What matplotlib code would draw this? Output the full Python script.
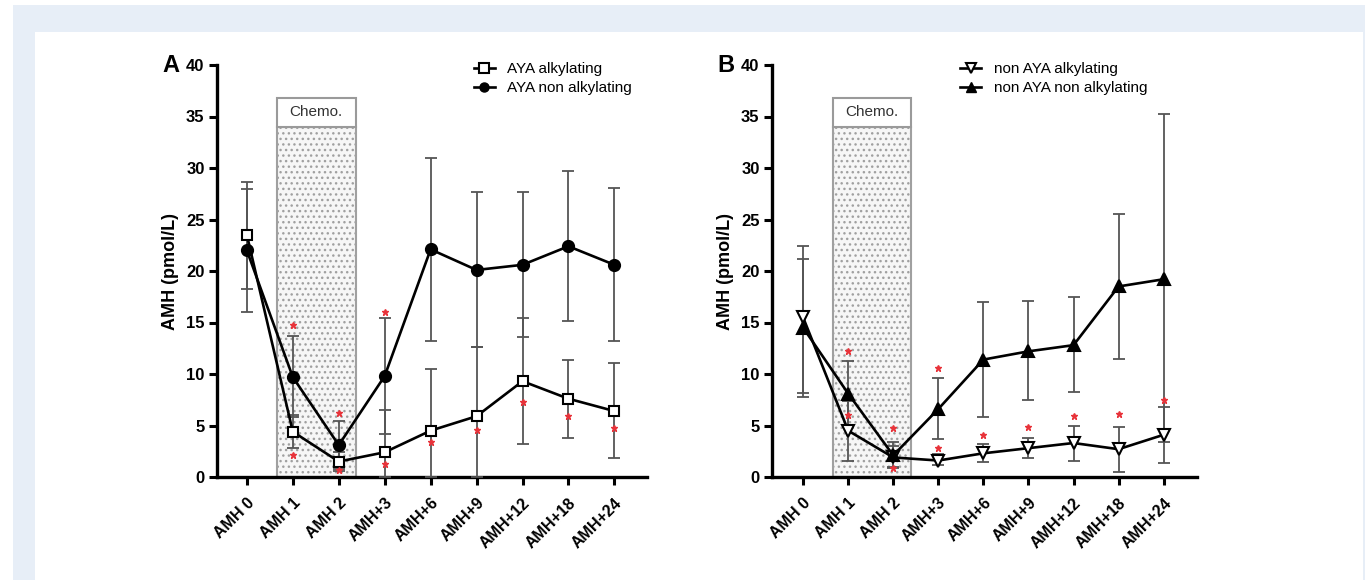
import matplotlib
matplotlib.use("Agg")
from matplotlib import pyplot as plt
from matplotlib.patches import Rectangle
from matplotlib.lines import Line2D

plt.rcParams['font.family'] = ['Liberation Sans', 'DejaVu Sans']
plt.rcParams['hatch.linewidth'] = 1.0

# time points
timepoints = ["AMH 0", "AMH 1", "AMH 2", "AMH+3", "AMH+6", "AMH+9", "AMH+12", "AMH+18", "AMH+24"]

# panel A - AYA alkylating (open squares)
aya_alk = [23.5, 4.4, 1.5, 2.4, 4.5, 5.9, 9.3, 7.6, 6.4]
aya_alk_lo = [18.3, 2.8, 0.6, 0.0, 0.0, 0.0, 3.2, 3.8, 1.8]
aya_alk_hi = [28.6, 6.0, 2.4, 6.5, 10.5, 12.6, 15.4, 11.4, 11.1]
# panel A - AYA non alkylating (filled circles)
aya_non = [22.0, 9.7, 3.1, 9.8, 22.1, 20.1, 20.6, 22.4, 20.6]
aya_non_lo = [16.0, 5.8, 0.8, 4.2, 13.2, 12.6, 13.6, 15.1, 13.2]
aya_non_hi = [28.0, 13.7, 5.4, 15.4, 31.0, 27.7, 27.7, 29.7, 28.1]
# panel A - significance stars (x index, y value)
stars_a_x = [1, 1, 2, 2, 3, 3, 4, 5, 6, 7, 8]
stars_a_y = [14.8, 2.1, 6.2, 0.7, 16.0, 1.3, 3.4, 4.6, 7.3, 5.9, 4.8]

# panel B - non AYA alkylating (open down triangles)
non_alk = [15.5, 4.5, 1.9, 1.6, 2.3, 2.8, 3.3, 2.7, 4.1]
non_alk_lo = [7.8, 1.6, 0.9, 1.2, 1.5, 1.8, 1.6, 0.5, 1.4]
non_alk_hi = [22.4, 7.4, 3.0, 2.2, 3.2, 3.8, 5.0, 4.9, 6.8]
# panel B - non AYA non alkylating (filled triangles)
non_non = [14.5, 8.1, 2.1, 6.6, 11.4, 12.2, 12.8, 18.5, 19.2]
non_non_lo = [8.2, 4.9, 1.0, 3.7, 5.8, 7.5, 8.3, 11.5, 3.4]
non_non_hi = [21.2, 11.3, 3.4, 9.6, 17.0, 17.1, 17.5, 25.5, 35.2]
# panel B - significance stars
stars_b_x = [1, 1, 2, 2, 3, 3, 4, 5, 6, 7, 8]
stars_b_y = [12.2, 6.0, 4.8, 0.9, 10.6, 2.8, 4.1, 4.9, 5.9, 6.1, 7.5]


def draw_series(ax, vals, lo, hi, marker, fill):
    x = list(range(len(vals)))
    err = [[v - l for v, l in zip(vals, lo)], [h - v for v, h in zip(vals, hi)]]
    ax.errorbar(x, vals, yerr=err, fmt='none', ecolor='#555555', elinewidth=1.3,
                capsize=4.5, capthick=1.3, zorder=3)
    ax.plot(x, vals, color='black', lw=1.9, marker=marker, ms=7.5 if marker == 's' else 8,
            mfc='black' if fill else 'white', mec='black', mew=1.5, zorder=4)


def setup_panel(ax, letter, xlim, chemo_x):
    # chemo box
    ax.add_patch(Rectangle((chemo_x[0], 0), chemo_x[1] - chemo_x[0], 34.0,
                           facecolor='#f6f6f6', edgecolor='#a0a0a0', hatch='...',
                           lw=1.5, zorder=1))
    ax.add_patch(Rectangle((chemo_x[0], 34.0), chemo_x[1] - chemo_x[0], 2.8,
                           facecolor='white', edgecolor='#9a9a9a', lw=1.5, zorder=1))
    ax.text(sum(chemo_x) / 2, 35.4, "Chemo.", ha='center', va='center', fontsize=11,
            color='#333333')
    ax.set_xlim(*xlim)
    ax.set_ylim(0, 40)
    ax.set_yticks(range(0, 41, 5))
    ax.set_xticks(range(len(timepoints)))
    ax.set_xticklabels(timepoints, rotation=45, ha='right', rotation_mode='anchor',
                       fontweight='bold', fontsize=11.5)
    for lab in ax.get_yticklabels():
        lab.set_fontweight('bold')
        lab.set_fontsize(12)
    for s in ['top', 'right']:
        ax.spines[s].set_visible(False)
    for s in ['left', 'bottom']:
        ax.spines[s].set_linewidth(2.4)
    ax.tick_params(axis='both', width=2.2, length=6, direction='out', pad=3)
    ax.tick_params(axis='x', pad=7)
    ax.set_ylabel("AMH (pmol/L)", fontweight='bold', fontsize=13, labelpad=5)
    ax.text(-0.128, 1.0, letter, transform=ax.transAxes, fontsize=17, fontweight='bold',
            ha='left', va='center')


fig = plt.figure(figsize=(13.68, 5.8), dpi=100)
fig.patch.set_facecolor('white')
# outer frame like the journal page
fig.patches.append(Rectangle((13 / 1368, 0), 1352 / 1368, 575 / 580, transform=fig.transFigure,
                             facecolor='#e7eef7', edgecolor='none', zorder=-2))
fig.patches.append(Rectangle((35 / 1368, 0), 1328 / 1368, 548 / 580, transform=fig.transFigure,
                             facecolor='white', edgecolor='none', zorder=-1))

axA = fig.add_axes([217 / 1368, 1 - 477 / 580, 430 / 1368, 412 / 580])
axB = fig.add_axes([772 / 1368, 1 - 477 / 580, 425 / 1368, 412 / 580])
for ax in (axA, axB):
    ax.patch.set_alpha(0)

setup_panel(axA, "A", (-0.65, 8.71), (0.65, 2.37))
draw_series(axA, aya_alk, aya_alk_lo, aya_alk_hi, 's', False)
draw_series(axA, aya_non, aya_non_lo, aya_non_hi, 'o', True)
axA.plot(stars_a_x, stars_a_y, ls='none', marker='*', color='#e8333a', ms=5, zorder=5)
hA = [Line2D([], [], color='black', lw=1.9, marker='s', mfc='white', mec='black', ms=6.5, mew=1.5),
      Line2D([], [], color='black', lw=1.9, marker='o', mfc='black', mec='black', ms=6.5)]
axA.legend(hA, ["AYA alkylating", "AYA non alkylating"], loc='upper left',
           bbox_to_anchor=(0.565, 1.04), frameon=False, fontsize=11, handlelength=1.4,
           labelspacing=0.3, handletextpad=0.8)

setup_panel(axB, "B", (-0.69, 8.74), (0.67, 2.4))
draw_series(axB, non_alk, non_alk_lo, non_alk_hi, 'v', False)
draw_series(axB, non_non, non_non_lo, non_non_hi, '^', True)
axB.plot(stars_b_x, stars_b_y, ls='none', marker='*', color='#e8333a', ms=5, zorder=5)
hB = [Line2D([], [], color='black', lw=1.9, marker='v', mfc='white', mec='black', ms=6.5, mew=1.5),
      Line2D([], [], color='black', lw=1.9, marker='^', mfc='black', mec='black', ms=6.5)]
axB.legend(hB, ["non AYA alkylating", "non AYA non alkylating"], loc='upper left',
           bbox_to_anchor=(0.41, 1.04), frameon=False, fontsize=11, handlelength=1.4,
           labelspacing=0.3, handletextpad=0.8)

fig.savefig("out.png", dpi=100)
